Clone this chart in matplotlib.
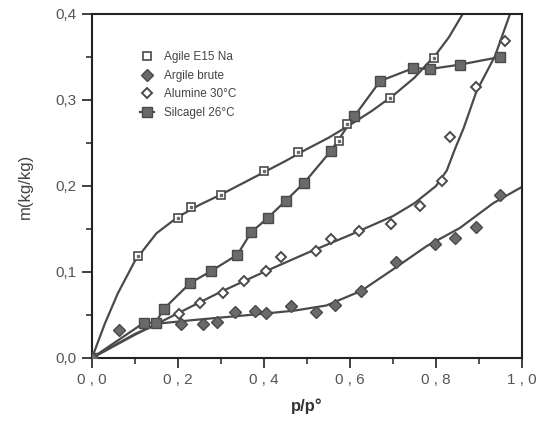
import matplotlib
matplotlib.use('Agg')
import matplotlib.pyplot as plt
from matplotlib.ticker import MultipleLocator, FuncFormatter

plt.rcParams['font.family'] = ['Liberation Sans', 'DejaVu Sans']

# measured points
agile_x = [0.106, 0.199, 0.230, 0.301, 0.401, 0.479, 0.575, 0.594, 0.692, 0.795]
agile_y = [0.118, 0.163, 0.175, 0.189, 0.217, 0.239, 0.252, 0.272, 0.302, 0.349]

argile_x = [0.0, 0.063, 0.207, 0.257, 0.290, 0.333, 0.378, 0.405, 0.463, 0.521, 0.564,
            0.626, 0.708, 0.797, 0.844, 0.894, 0.949]
argile_y = [0.0, 0.033, 0.039, 0.040, 0.042, 0.053, 0.055, 0.052, 0.060, 0.053, 0.062,
            0.078, 0.111, 0.132, 0.140, 0.152, 0.189]

alumine_x = [0.203, 0.251, 0.304, 0.354, 0.405, 0.440, 0.521, 0.556, 0.622, 0.696,
             0.762, 0.813, 0.832, 0.894, 0.960]
alumine_y = [0.051, 0.064, 0.076, 0.089, 0.101, 0.117, 0.124, 0.138, 0.148, 0.156,
             0.177, 0.206, 0.257, 0.315, 0.368]

silica_x = [0.0, 0.121, 0.148, 0.167, 0.228, 0.277, 0.338, 0.370, 0.409, 0.451, 0.494,
            0.556, 0.610, 0.670, 0.747, 0.786, 0.855, 0.949]
silica_y = [0.0, 0.041, 0.041, 0.057, 0.087, 0.101, 0.120, 0.146, 0.163, 0.183, 0.204,
            0.241, 0.281, 0.322, 0.337, 0.336, 0.341, 0.350]

# fitted curves
agile_cx = [0.0, 0.03, 0.06, 0.1, 0.15, 0.2, 0.25, 0.3, 0.35, 0.4, 0.45, 0.5, 0.55,
            0.6, 0.65, 0.7, 0.75, 0.8, 0.83, 0.862]
agile_cy = [0.0, 0.040, 0.075, 0.113, 0.145, 0.164, 0.178, 0.190, 0.203, 0.216, 0.229,
            0.243, 0.256, 0.271, 0.287, 0.305, 0.326, 0.353, 0.373, 0.400]

argile_cx = [0.0, 0.05, 0.1, 0.155, 0.234, 0.3, 0.389, 0.47, 0.545, 0.626, 0.70,
             0.778, 0.855, 0.933, 1.0]
argile_cy = [0.0, 0.014, 0.028, 0.040, 0.044, 0.047, 0.051, 0.055, 0.061, 0.078, 0.103,
             0.130, 0.151, 0.180, 0.199]

alumine_cx = [0.0, 0.1, 0.2, 0.3, 0.4, 0.5, 0.6, 0.7, 0.75, 0.8, 0.825, 0.844, 0.864,
              0.894, 0.937, 0.972]
alumine_cy = [0.0, 0.027, 0.052, 0.077, 0.100, 0.122, 0.143, 0.165, 0.180, 0.200,
              0.218, 0.243, 0.267, 0.310, 0.351, 0.400]

ticks_x = [0.0, 0.2, 0.4, 0.6, 0.8, 1.0]
ticks_y = [0.0, 0.1, 0.2, 0.3, 0.4]

line_c = '#4a4a4a'
mark_c = '#6a6a6a'

fig = plt.figure(figsize=(5.41, 4.36), dpi=100)
ax = fig.add_axes([0.170, 0.179, 0.795, 0.789])

ax.plot(agile_cx, agile_cy, color=line_c, lw=1.6, zorder=2)
ax.plot(argile_cx, argile_cy, color=line_c, lw=1.6, zorder=2)
ax.plot(alumine_cx, alumine_cy, color=line_c, lw=1.6, zorder=2)

ax.plot(agile_x, agile_y, 's', ms=6, mfc='white', mec=line_c, mew=1.2, zorder=4,
        label='Agile E15 Na')
ax.plot(agile_x, agile_y, 's', ms=2, mfc=mark_c, mec=mark_c, zorder=5)
ax.plot(argile_x, argile_y, 'D', ms=6, mfc=mark_c, mec=line_c, mew=1.0, zorder=4,
        label='Argile brute')
ax.plot(alumine_x, alumine_y, 'D', ms=5.5, mfc='white', mec=line_c, mew=1.4, zorder=4,
        label='Alumine 30°C')
ax.plot(silica_x, silica_y, 's-', ms=6.5, color=line_c, mfc=mark_c, mec=line_c, lw=1.6,
        zorder=3, label='Silcagel 26°C')

ax.set_xlim(0, 1.0)
ax.set_ylim(0, 0.4)
ax.set_xticks(ticks_x)
ax.set_yticks(ticks_y)
ax.xaxis.set_minor_locator(MultipleLocator(0.1))
ax.yaxis.set_minor_locator(MultipleLocator(0.05))
fmt = FuncFormatter(lambda v, p: ('%.1f' % v).replace('.', ','))
ax.xaxis.set_major_formatter(FuncFormatter(lambda v, p: ('%.1f' % v).replace('.', ' , ')))
ax.yaxis.set_major_formatter(fmt)
ax.tick_params(which='major', direction='out', length=7, width=1.3, color='#333333',
               labelsize=11, labelcolor='#555555', pad=4)
ax.tick_params(which='minor', direction='out', length=4, width=1.2, color='#333333')
for s in ax.spines.values():
    s.set_color('#222222')
    s.set_linewidth(1.5)

ax.set_xlabel('p/p°', fontsize=12, fontweight='bold', color='#333333', labelpad=8)
ax.set_ylabel('m(kg/kg)', fontsize=12, color='#444444', labelpad=16)

leg = ax.legend(loc='upper left', bbox_to_anchor=(0.1, 0.905), frameon=False,
                fontsize=8.5, handlelength=1.2, handletextpad=0.9, labelspacing=0.55,
                borderaxespad=0)
for t in leg.get_texts():
    t.set_color('#444444')

fig.savefig('out.png', dpi=100)
